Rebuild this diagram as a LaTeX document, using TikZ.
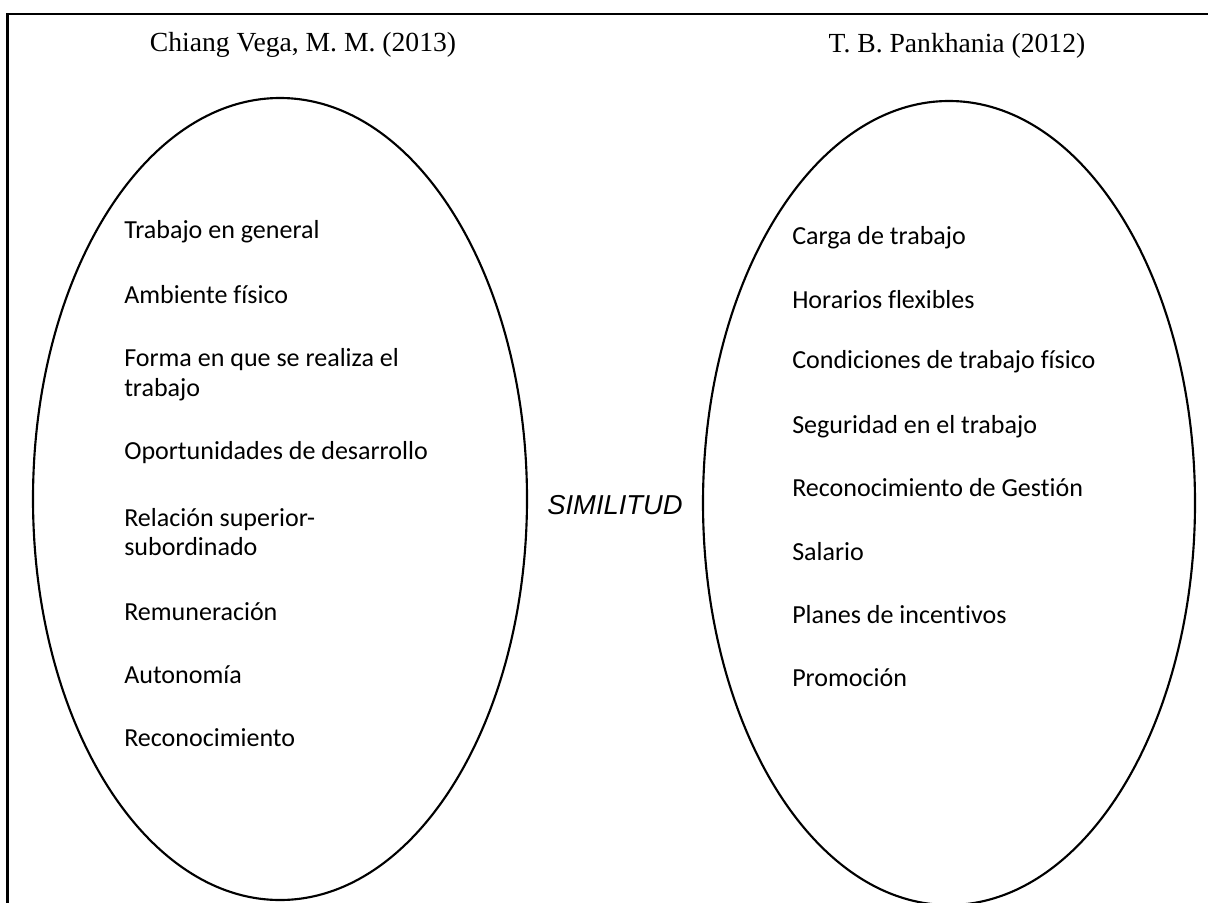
\documentclass[tikz,border=0pt]{standalone}
\usepackage{fontspec}
\usepackage{tikz}
\usetikzlibrary{positioning}
\newfontfamily\itemfont[Ligatures={NoCommon}]{Carlito}
\newfontfamily\titlefont{Liberation Serif}
\newfontfamily\simfont{Liberation Sans}

\tikzset{
    itemtxt/.style={anchor=west, inner sep=0pt, align=left,
        font=\itemfont\fontsize{19.6}{22.5}\selectfont},
    titletxt/.style={inner sep=0pt, font=\titlefont\fontsize{20.8}{24}\selectfont},
    bubble/.style={line width=1.6pt}
}

\begin{document}
\begin{tikzpicture}[x=0.02646cm, y=-0.02646cm]
    \useasboundingbox (0,0) rectangle (1208,902);
    \clip (0,0) rectangle (1208,902);
    \fill[white] (0,0) rectangle (1208,902);
    % frame
    \draw[line width=1.8pt] (7.5,930) -- (7.5,14) -- (1230,14);

    % titles
    \node[titletxt] (chiang) at (303,45) {Chiang Vega, M. M. (2013)};
    \node[titletxt] (pank) at (957,46) {T. B. Pankhania (2012)};

    % ellipses
    \draw[bubble] (280,499) ellipse [x radius=247, y radius=401];
    \draw[bubble] (949,503) ellipse [x radius=246, y radius=402];

    % left list
    \foreach \y/\t [count=\i] in {232/Trabajo en general, 295/Ambiente físico,
        375/{Forma en  que se realiza el\\trabajo}, 453/Oportunidades  de desarrollo,
        532/{Relación superior-\\subordinado}, 612/Remuneración,
        675/Autonomía, 738/Reconocimiento} {
        \node[itemtxt] (chiang\i) at (124,\y) {\t};
    }

    % right list
    \foreach \y/\t [count=\i] in {238/Carga de trabajo, 300/Horarios flexibles,
        362/Condiciones de trabajo físico, 427/Seguridad en el trabajo,
        488/Reconocimiento de Gestión, 552/Salario,
        615/Planes de incentivos, 678/Promoción} {
        \node[itemtxt] (pank\i) at (792,\y) {\t};
    }

    \node[inner sep=0pt, font=\simfont\itshape\fontsize{20.6}{24}\selectfont] (simil) at (615,505) {SIMILITUD};
\end{tikzpicture}
\end{document}
